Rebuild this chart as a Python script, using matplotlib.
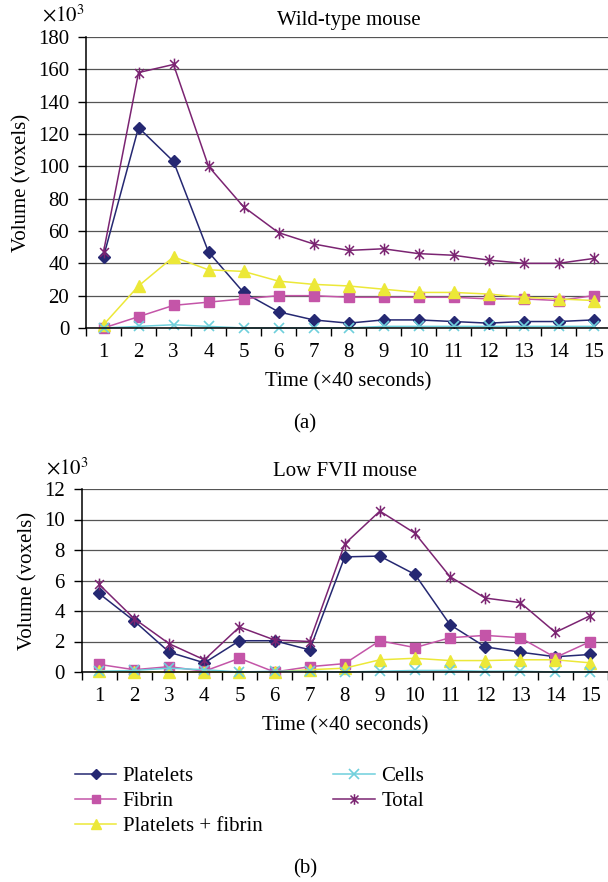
import numpy as np
import matplotlib
matplotlib.use("Agg")
import matplotlib.pyplot as plt
from matplotlib.path import Path
from matplotlib.transforms import offset_copy

plt.rcParams["font.family"] = ["Liberation Serif", "DejaVu Serif"]
plt.rcParams["mathtext.fontset"] = "stix"

# ── data ────────────────────────────────────────────────────
time_steps = list(range(1, 16))
series_names = ["Platelets", "Fibrin", "Platelets + fibrin", "Cells", "Total"]

# wild-type mouse (x10^3 voxels)
wt_platelets = [44, 124, 103, 47, 22, 10, 5, 3, 5, 5, 4, 3, 4, 4, 5]
wt_fibrin = [0, 7, 14, 16, 18, 20, 20, 19, 19, 19, 19, 18, 18, 17, 20]
wt_plt_fib = [2, 26, 44, 36, 35, 29, 27, 26, 24, 22, 22, 21, 19, 18, 17]
wt_cells = [0, 1, 2, 1, 0, 0, 0, 0, 1, 1, 1, 1, 1, 1, 1]
wt_total = [47, 158, 163, 100, 75, 59, 52, 48, 49, 46, 45, 42, 40, 40, 43]

# low FVII mouse (x10^3 voxels)
lf_platelets = [5.15, 3.35, 1.3, 0.6, 2.05, 2.05, 1.45, 7.55, 7.6, 6.4, 3.1, 1.65, 1.3, 1.0, 1.15]
lf_fibrin = [0.5, 0.15, 0.35, 0.05, 0.9, 0.0, 0.35, 0.55, 2.05, 1.6, 2.25, 2.4, 2.25, 0.95, 2.0]
lf_plt_fib = [0.05, 0.0, 0.0, 0.0, 0.0, 0.0, 0.15, 0.25, 0.8, 0.9, 0.75, 0.75, 0.8, 0.8, 0.6]
lf_cells = [0.05, 0.1, 0.25, 0.15, 0.0, 0.05, 0.05, 0.0, 0.05, 0.1, 0.1, 0.05, 0.05, 0.0, 0.0]
lf_total = [5.75, 3.5, 1.85, 0.8, 2.95, 2.1, 2.0, 8.4, 10.55, 9.1, 6.25, 4.85, 4.55, 2.6, 3.7]

# ── style ───────────────────────────────────────────────────
# Excel-style "star": an x with a vertical bar through it
star = Path([(0, -1), (0, 1), (-0.75, -0.75), (0.75, 0.75), (-0.75, 0.75), (0.75, -0.75)],
            [Path.MOVETO, Path.LINETO, Path.MOVETO, Path.LINETO, Path.MOVETO, Path.LINETO])

styles = [
    dict(color="#252872", marker="D", ms=6.0, mfc="#252872", mec="#252872"),
    dict(color="#c455a8", marker="s", ms=6.5, mfc="#c455a8", mec="#c455a8"),
    dict(color="#ece838", marker="^", ms=8.5, mfc="#ece838", mec="#ece838"),
    dict(color="#6fd0dc", marker="x", ms=7.5, mfc="none", mec="#6fd0dc", mew=1.2),
    dict(color="#7b2472", marker=star, ms=8.5, mfc="none", mec="#7b2472", mew=1.1),
]

FS = 15


def draw_panel(ax, series, ymax, ystep, title, exp_x, exp_dy):
    for vals, st, name in zip(series, styles, series_names):
        ax.plot(time_steps, vals, lw=1.1, label=name, clip_on=False, zorder=3, **st)
    ax.set_xlim(0.5, 15.5)
    ax.set_ylim(0, ymax)
    ax.set_yticks(np.arange(0, ymax + ystep / 2, ystep))
    ax.set_xticks(time_steps)
    ax.set_xticks(np.arange(0.5, 16, 1), minor=True)
    ax.tick_params(axis="x", which="major", length=0, pad=11, labelsize=FS)
    ax.tick_params(axis="x", which="minor", length=6, width=1, direction="out")
    ax.tick_params(axis="y", length=6, width=1, direction="out", labelsize=FS, pad=6)
    ax.grid(axis="y", color="#555555", lw=0.9)
    ax.set_axisbelow(True)
    for s in ["top", "right"]:
        ax.spines[s].set_visible(False)
    for s in ["left", "bottom"]:
        ax.spines[s].set_linewidth(1.1)
        ax.spines[s].set_zorder(4)
    ax.set_title(title, fontsize=FS, pad=9)
    ax.set_xlabel("Time (\u00d740 seconds)", fontsize=FS, labelpad=7)
    ax.set_ylabel("Volume (voxels)", fontsize=FS, labelpad=5)
    tr = offset_copy(ax.transAxes, fig=ax.figure, y=exp_dy, units="dots")
    ax.text(exp_x, 1.0, r"$\times10^3$", transform=tr, fontsize=FS,
            ha="center", va="baseline")


fig = plt.figure(figsize=(6.08, 8.82), dpi=100)

ax1 = fig.add_axes([86 / 608, 1 - 328 / 882, 525 / 608, 291 / 882])
draw_panel(ax1, [wt_platelets, wt_fibrin, wt_plt_fib, wt_cells, wt_total], 180, 20,
           "Wild-type mouse", (63 - 86) / 525, 16)

ax2 = fig.add_axes([81.5 / 608, 1 - 672 / 882, 526.5 / 608, 183 / 882])
draw_panel(ax2, [lf_platelets, lf_fibrin, lf_plt_fib, lf_cells, lf_total], 12, 2,
           "Low FVII mouse", (67 - 81.5) / 526.5, 15)

fig.text(305 / 608, 1 - 424 / 882, "(a)", ha="center", va="center", fontsize=FS)
fig.text(305 / 608, 1 - 869 / 882, "(b)", ha="center", va="center", fontsize=FS)

handles, labels = ax2.get_legend_handles_labels()
fig.legend(handles, labels,
           loc="upper left", bbox_to_anchor=(56 / 608, 1 - 748 / 882), ncol=2,
           frameon=False, fontsize=FS, handlelength=2.0, handletextpad=0.3,
           columnspacing=3.4, labelspacing=0.25, markerscale=0.9)

fig.savefig("out.png", dpi=100)
